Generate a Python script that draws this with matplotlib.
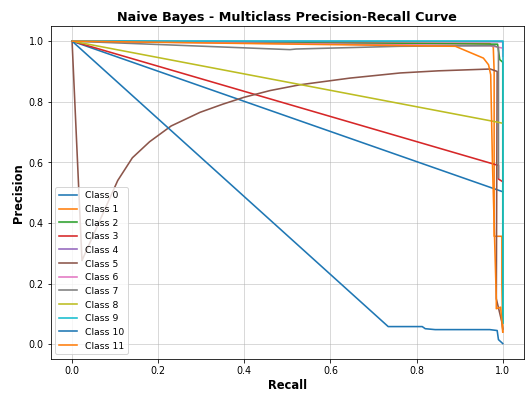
import matplotlib
matplotlib.use("Agg")
import matplotlib.pyplot as plt

labels = [f"Class {i}" for i in range(12)]

r0 = [0.0, 1.0]
p0 = [1.0, 0.503]
r1 = [0.0, 0.97, 0.978, 0.98, 0.98, 0.998, 0.998, 1.0]
p1 = [1.0, 0.992, 0.98, 0.9, 0.356, 0.356, 0.2, 0.04]
r2 = [0.0, 0.988, 0.993, 0.998, 1.0, 1.0]
p2 = [1.0, 0.99, 0.939, 0.933, 0.93, 0.07]
r3 = [0.0, 0.982, 0.99, 0.99, 1.0]
p3 = [1.0, 0.593, 0.59, 0.545, 0.536]
r4 = [0.0, 1.0, 1.0]
p4 = [1.0, 0.998, 0.97]
r5 = [0.0, 0.023, 0.065, 0.106, 0.14, 0.18, 0.23, 0.297, 0.35, 0.40, 0.46, 0.529,
      0.645, 0.762, 0.85, 0.971, 0.987, 0.985, 0.99, 0.998, 1.0]
p5 = [1.0, 0.276, 0.41, 0.54, 0.615, 0.668, 0.72, 0.765, 0.792, 0.815, 0.837, 0.856,
      0.878, 0.895, 0.902, 0.908, 0.9, 0.15, 0.12, 0.072, 0.05]
r6 = [0.0, 0.30, 0.76, 0.97, 1.0, 1.0]
p6 = [1.0, 0.995, 0.988, 0.985, 0.977, 0.95]
r7 = [0.0, 0.506, 0.52, 0.76, 0.98, 0.99, 0.99]
p7 = [1.0, 0.972, 0.974, 0.983, 0.985, 0.98, 0.55]
r8 = [0.0, 0.983, 1.0]
p8 = [1.0, 0.734, 0.729]
r9 = [0.0, 1.0, 1.0]
p9 = [1.0, 1.0, 0.07]
r10 = [0.0, 0.734, 0.813, 0.82, 0.843, 0.97, 0.987, 0.99, 1.0]
p10 = [1.0, 0.058, 0.058, 0.051, 0.048, 0.048, 0.045, 0.015, 0.002]
r11 = [0.0, 0.89, 0.92, 0.955, 0.967, 0.972, 0.976, 0.985, 0.985, 0.995, 1.0]
p11 = [1.0, 0.983, 0.965, 0.944, 0.922, 0.889, 0.6, 0.15, 0.117, 0.122, 0.04]

recalls = [r0, r1, r2, r3, r4, r5, r6, r7, r8, r9, r10, r11]
precisions = [p0, p1, p2, p3, p4, p5, p6, p7, p8, p9, p10, p11]

dpi = 72
W, H = 526, 394
fig, ax = plt.subplots(figsize=((W + 0.3) / dpi, (H + 0.3) / dpi), dpi=dpi)
fig.subplots_adjust(left=50.5 / W, right=524 / W, bottom=(H - 358.7) / H, top=(H - 26.3) / H)
for r, p, lab in zip(recalls, precisions, labels):
    ax.plot(r, p, lw=1.6, label=lab)

ax.set_xlabel("Recall", fontsize=11.5, fontweight="bold", labelpad=3)
ax.set_ylabel("Precision", fontsize=11.5, fontweight="bold")
ax.set_title("Naive Bayes - Multiclass Precision-Recall Curve", fontsize=12.8, fontweight="bold", pad=5)
ax.tick_params(labelsize=9.5)
ax.legend(loc="lower left", fontsize=9.3)
ax.grid(True, alpha=0.6)
fig.savefig("out.png", dpi=dpi)
